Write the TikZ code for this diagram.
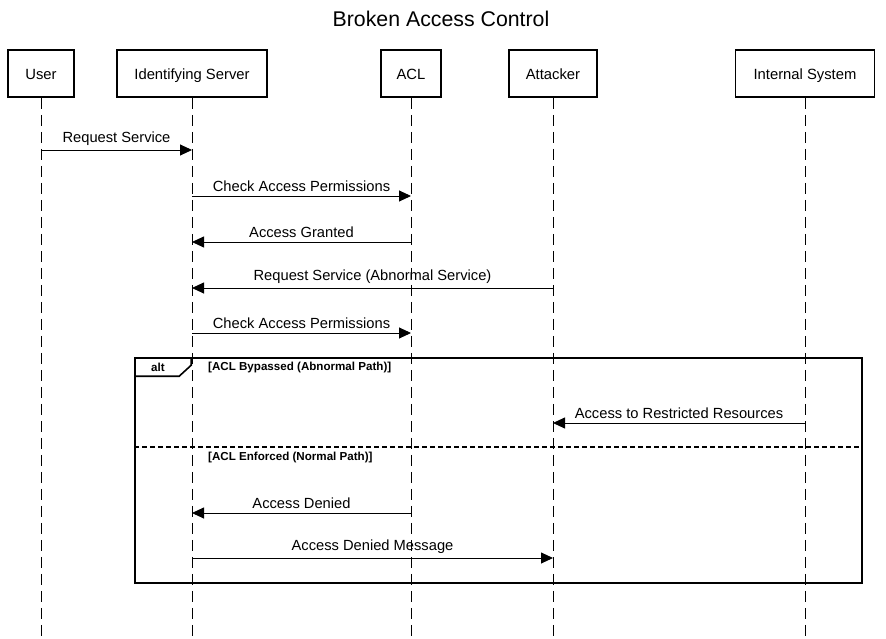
\documentclass[tikz,border=0pt]{standalone}
\usepackage{fontspec}
\setmainfont{Liberation Sans}
\usetikzlibrary{arrows.meta}
\begin{document}
\begin{tikzpicture}[x=1pt,y=-1pt,
  actor/.style={draw,line width=1.6pt,minimum height=47pt,inner sep=0pt,text height=12.5pt,text depth=0pt,font=\fontsize{14.8}{17}\selectfont},
  life/.style={line width=1pt,dash pattern=on 11pt off 6pt},
  msg/.style={line width=0.9pt,-{Triangle[length=12pt,width=11pt]}},
  lbl/.style={font=\fontsize{14.7}{17}\selectfont,above=3pt,inner sep=1pt},
  guard/.style={font=\bfseries\fontsize{11.6}{14}\selectfont,anchor=west,inner sep=0pt}]
\useasboundingbox (0,0) rectangle (886,639);
\node at (441,19) {\fontsize{21.3}{25}\selectfont Broken Access Control};
\node[actor,minimum width=66pt] (u) at (41,73.5) {User};
\node[actor,minimum width=150pt] (s) at (192,73.5) {Identifying Server};
\node[actor,minimum width=60pt] (a) at (411,73.5) {ACL};
\node[actor,minimum width=88pt] (t) at (553,73.5) {Attacker};
\node[actor,minimum width=139pt] (i) at (805,73.5) {Internal System};
\foreach \n in {u,s,a,t,i}{
  \coordinate (\n-end) at (\n.south |- 0,639);
  \draw[life] (\n.south) -- (\n-end);
}
% messages
\foreach \f/\tt/\y/\txt in {u/s/150/Request Service, s/a/196/Check Access Permissions, a/s/242/Access Granted, t/s/288/Request Service (Abnormal Service), s/a/333/Check Access Permissions, i/t/423/Access to Restricted Resources, a/s/513/Access Denied, s/t/558/Access Denied Message}{
  \coordinate (m1) at (\f.south |- 0,\y);
  \coordinate (m2) at (\tt.south |- 0,\y);
  \draw[msg] (m1) -- node[lbl] {\txt} (m2);
}
% alt frame
\node[draw,line width=1.6pt,minimum width=727pt,minimum height=225pt,inner sep=0pt] (alt) at (498.5,470.5) {};
\draw[line width=1.6pt] (alt.north west) ++(0,19) -- ++(45,0) -- ++(12,-11) -- ++(0,-8);
\node[font=\bfseries\fontsize{11.6}{13}\selectfont] at (158,367) {alt};
\draw[line width=1.6pt,dash pattern=on 5pt off 3pt] (alt.west |- 0,447) -- (alt.east |- 0,447);
\node[guard] at (208,367) {[ACL Bypassed (Abnormal Path)]};
\node[guard] at (208,457) {[ACL Enforced (Normal Path)]};
\end{tikzpicture}
\end{document}
